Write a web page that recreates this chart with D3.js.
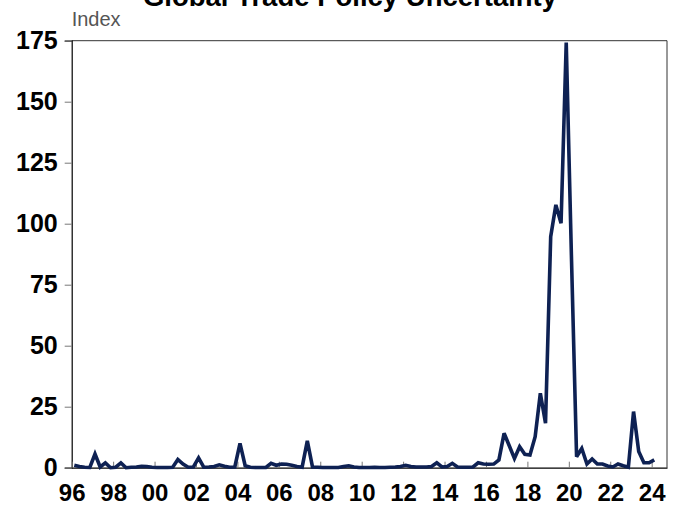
<!DOCTYPE html>
<html>
<head>
<meta charset="utf-8">
<script src="https://cdn.jsdelivr.net/npm/d3@7"></script>
<style>
  html, body { margin: 0; padding: 0; background: #fff; }
  svg { display: block; }
</style>
</head>
<body>
<svg id="chart" width="678" height="506"></svg>
<script>
// ---- data ----
const title = "Global Trade Policy Uncertainty";
const unitLabel = "Index";
const startYear = 1996; // first quarter: 1996 Q1
const tpuValues = [
  1.0, 0.5, 0.2, 0.1, 5.6, 0.3, 2.0, 0.0,        // 1996-97
  0.2, 2.0, 0.0, 0.2, 0.3, 0.6, 0.5, 0.2,        // 1998-99
  0.1, 0.1, 0.1, 0.2, 3.4, 1.5, 0.2, 0.3,        // 2000-01
  4.0, 0.2, 0.3, 0.5, 1.2, 0.6, 0.2, 0.3,        // 2002-03
  10.0, 0.8, 0.2, 0.1, 0.1, 0.1, 1.8, 1.0,       // 2004-05
  1.5, 1.4, 1.0, 0.5, 0.2, 11.0, 0.3, 0.2,       // 2006-07
  0.1, 0.1, 0.1, 0.1, 0.5, 0.8, 0.3, 0.1,        // 2008-09
  0.1, 0.1, 0.2, 0.1, 0.1, 0.2, 0.3, 0.5,        // 2010-11
  1.0, 0.5, 0.3, 0.3, 0.3, 0.5, 2.0, 0.3,        // 2012-13
  0.5, 1.8, 0.3, 0.2, 0.2, 0.3, 2.0, 1.5,        // 2014-15
  1.4, 1.5, 3.2, 14.1, 9.0, 3.8, 8.6, 5.5,       // 2016-17
  5.2, 12.7, 30.5, 18.2, 94.7, 107.7, 100.2, 174.2, // 2018-19
  87.0, 4.5, 7.9, 1.5, 3.6, 1.5, 1.5, 0.7,       // 2020-21
  0.3, 1.5, 0.8, 0.2, 23.0, 6.6, 2.0, 2.0,       // 2022-23
  3.2                                            // 2024
];
const yTicks = [0, 25, 50, 75, 100, 125, 150, 175];
const xTicks = [1996, 1998, 2000, 2002, 2004, 2006, 2008, 2010, 2012, 2014, 2016, 2018, 2020, 2022, 2024];
const xTickLabels = ["96", "98", "00", "02", "04", "06", "08", "10", "12", "14", "16", "18", "20", "22", "24"];

// ---- layout ----
const mLeft = 71.7, mRight = 667, mTop = 40.7, mBottom = 467.7;
const svg = d3.select("#chart");
const x = d3.scaleLinear().domain([1996, 2024.74]).range([mLeft, mRight]);
const y = d3.scaleLinear().domain([0, 175]).range([mBottom, mTop]);

const data = tpuValues.map((v, i) => ({ t: startYear + i / 4 + 0.125, v }));

const font = "'Liberation Sans', Arial, Helvetica, sans-serif";

// frame (top + right)
svg.append("path")
  .attr("d", `M${mLeft},${mTop}H${mRight}V${mBottom}`)
  .attr("fill", "none").attr("stroke", "#333").attr("stroke-width", 1);

// y axis
const yAxis = svg.append("g")
  .attr("transform", `translate(${mLeft},0)`)
  .call(d3.axisLeft(y).tickValues(yTicks).tickSize(7).tickPadding(7).tickFormat(d3.format("d")));
yAxis.select(".domain").attr("stroke", "#000").attr("stroke-width", 1.2);
yAxis.selectAll(".tick line").attr("stroke", "#777");
yAxis.selectAll(".tick text")
  .attr("font-family", font).attr("font-weight", "bold")
  .attr("font-size", 25).attr("fill", "#000");

// x axis (ticks point inward)
const xAxis = svg.append("g")
  .attr("transform", `translate(0,${mBottom})`)
  .call(d3.axisBottom(x).tickValues(xTicks).tickSizeInner(-6).tickSizeOuter(0).tickPadding(16)
    .tickFormat((d, i) => xTickLabels[i]));
xAxis.select(".domain").attr("stroke", "#000").attr("stroke-width", 1.2);
xAxis.selectAll(".tick line").attr("stroke", "#777");
xAxis.selectAll(".tick text")
  .attr("font-family", font).attr("font-weight", "bold")
  .attr("font-size", 24).attr("fill", "#000");

// line
svg.append("path")
  .datum(data)
  .attr("fill", "none")
  .attr("stroke", "#0e2153")
  .attr("stroke-width", 3.6)
  .attr("stroke-linejoin", "miter")
  .attr("stroke-miterlimit", 3)
  .attr("d", d3.line().x(d => x(d.t)).y(d => y(d.v)));

// unit label
svg.append("text")
  .attr("x", mLeft).attr("y", 26)
  .attr("font-family", font)
  .attr("font-size", 20).attr("fill", "#555")
  .text(unitLabel);

// title (clipped at top as in reference)
svg.append("text")
  .attr("x", 350).attr("y", 6)
  .attr("text-anchor", "middle")
  .attr("font-family", font).attr("font-weight", "bold")
  .attr("font-size", 27.5).attr("fill", "#000")
  .text(title);
</script>
</body>
</html>
